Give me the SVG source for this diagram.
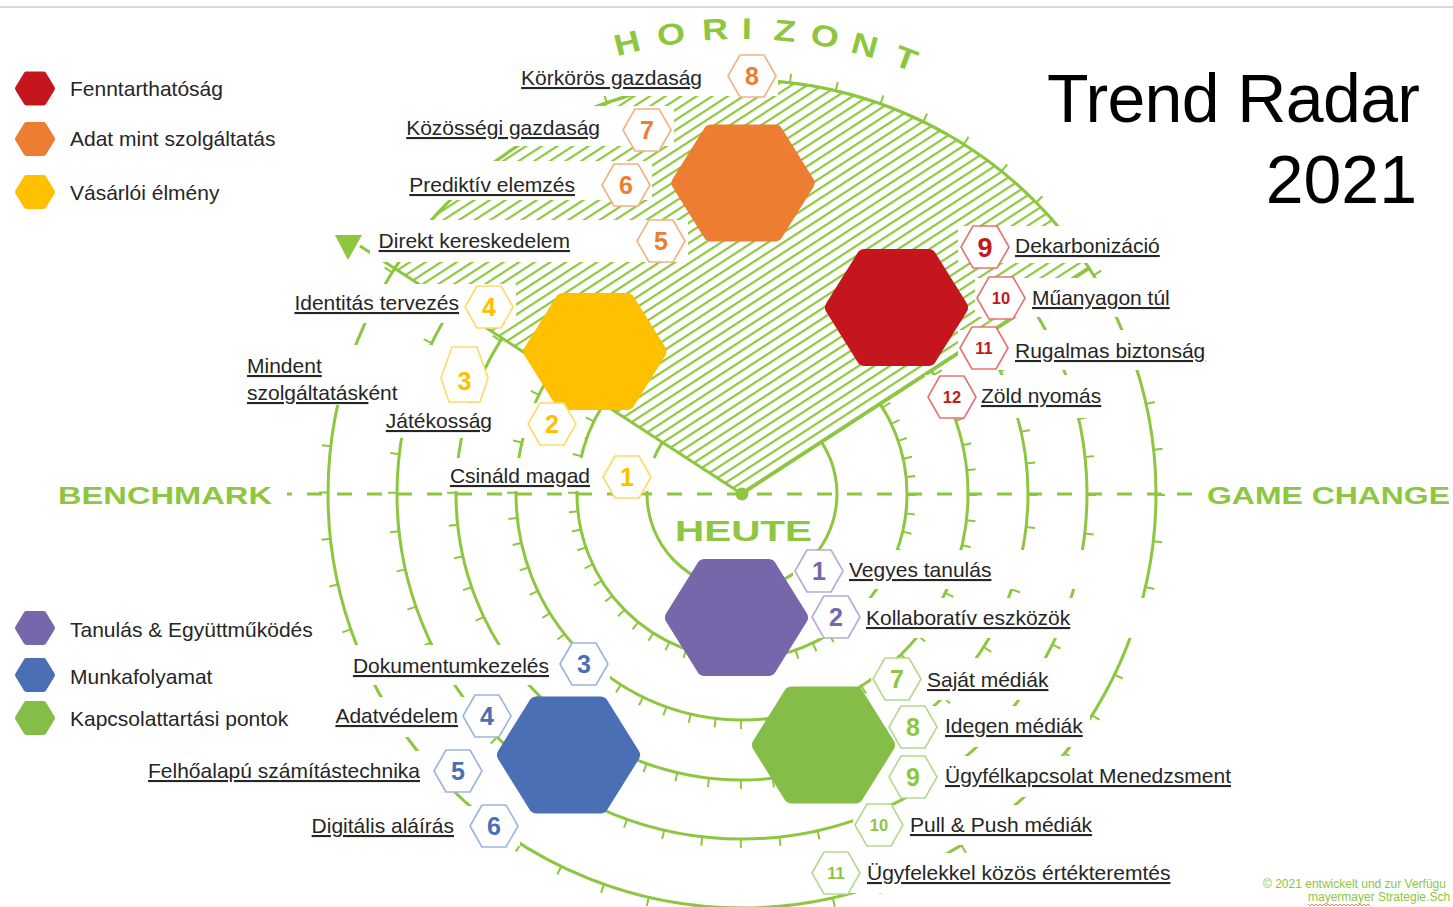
<svg xmlns="http://www.w3.org/2000/svg" xmlns:xlink="http://www.w3.org/1999/xlink" width="1453" height="907" viewBox="0 0 1453 907">
<style>
.lbl{font-family:"Liberation Sans",Arial,sans-serif;font-size:21px;fill:#262626;text-decoration:underline}
.end{text-anchor:end}
.num{font-family:"Liberation Sans",Arial,sans-serif;font-weight:bold;font-size:25px;text-anchor:middle}
.sm{font-size:16.5px}
.leg{font-family:"Liberation Sans",Arial,sans-serif;font-size:21px;fill:#262626}
.big{font-family:"Liberation Sans",Arial,sans-serif;font-weight:bold;fill:#8DC63F}
.title{font-family:"Liberation Sans",Arial,sans-serif;font-size:68px;fill:#000}
.copy{font-family:"Liberation Sans",Arial,sans-serif;font-size:12px;fill:#8DC63F}
.ring{fill:none;stroke:#8DC63F;stroke-width:3}
.tick{fill:none;stroke:#8DC63F;stroke-width:9}
.mask{fill:#fff}
</style>
<defs>
<pattern id="hatch" patternUnits="userSpaceOnUse" width="8.5" height="8.5" patternTransform="rotate(-33)">
<rect x="0" y="0" width="8.5" height="2.2" fill="#8DC63F"/>
</pattern>
<polygon id="bighex" points="-63.5,0 -32,-50.5 32,-50.5 63.5,0 32,50.5 -32,50.5" stroke-width="16" stroke-linejoin="round"/>
<polygon id="badge" points="-24,0 -12,-21 12,-21 24,0 12,21 -12,21" fill="#fff" stroke-width="1.6" stroke-linejoin="round"/>
<polygon id="leghex" points="-17,0 -8.5,-14 8.5,-14 17,0 8.5,14 -8.5,14" stroke-width="6" stroke-linejoin="round"/>
</defs>

<line x1="0" y1="7" x2="1453" y2="7" stroke="#D9D9D9" stroke-width="2"/>

<g id="rings">
<circle class="ring" cx="742" cy="494" r="95"/>
<circle class="ring" cx="742" cy="494" r="165"/>
<circle class="ring" cx="742" cy="494" r="226"/>
<circle class="ring" cx="742" cy="494" r="286"/>
<circle class="ring" cx="742" cy="494" r="345"/>
<circle class="ring" cx="742" cy="494" r="414"/>
<circle class="tick" cx="742" cy="494" r="169.5" stroke-dasharray="2 17.02"/>
<circle class="tick" cx="742" cy="494" r="230.5" stroke-dasharray="2 23.86"/>
<circle class="tick" cx="742" cy="494" r="290.5" stroke-dasharray="2 30.59"/>
<circle class="tick" cx="742" cy="494" r="349.5" stroke-dasharray="2 37.21"/>
<circle class="tick" cx="742" cy="494" r="418.5" stroke-dasharray="2 44.96"/>
</g>

<g id="horizont-sector">
<path d="M742,494 L394.8,268.5 A414,414 0 0 1 1089.2,268.5 Z" fill="#fff"/>
<path d="M742,494 L394.8,268.5 A414,414 0 0 1 1089.2,268.5 Z" fill="url(#hatch)" stroke="#8DC63F" stroke-width="3" stroke-linejoin="round"/>
<line x1="394.8" y1="268.5" x2="360" y2="246" stroke="#8DC63F" stroke-width="3"/>
<polygon points="335,235 362,235 348,260" fill="#8DC63F"/>
</g>

<g id="axis">
<line x1="287" y1="494" x2="1202" y2="494" stroke="#8DC63F" stroke-width="3" stroke-dasharray="15 15" stroke-dashoffset="10"/>
<circle cx="742" cy="494" r="6.5" fill="#8DC63F"/>
</g>

<g id="label-masks">
<rect class="mask" x="520" y="56" width="258" height="40"/>
<rect class="mask" x="410" y="106" width="264" height="40"/>
<rect class="mask" x="400" y="161" width="252" height="39"/>
<rect class="mask" x="370" y="220" width="318" height="42"/>
<rect class="mask" x="284" y="284" width="232" height="39"/>
<rect class="mask" x="240" y="345" width="192" height="60"/>
<rect class="mask" x="385" y="403" width="200" height="35"/>
<rect class="mask" x="445" y="458" width="210" height="33"/>
<rect class="mask" x="958" y="226" width="212" height="37"/>
<rect class="mask" x="975" y="278" width="207" height="39"/>
<rect class="mask" x="958" y="330" width="252" height="40"/>
<rect class="mask" x="925" y="375" width="183" height="43"/>
<rect class="mask" x="793" y="550" width="317" height="39"/>
<rect class="mask" x="810" y="598" width="340" height="40"/>
<rect class="mask" x="871" y="658" width="183" height="42"/>
<rect class="mask" x="888" y="706" width="202" height="41"/>
<rect class="mask" x="888" y="756" width="354" height="41"/>
<rect class="mask" x="853" y="805" width="245" height="40"/>
<rect class="mask" x="810" y="853" width="370" height="40"/>
<rect class="mask" x="345" y="645" width="265" height="40"/>
<rect class="mask" x="325" y="697" width="188" height="40"/>
<rect class="mask" x="143" y="751" width="342" height="41"/>
<rect class="mask" x="305" y="806" width="215" height="40"/>
</g>

<g id="hex-data"><use xlink:href="#bighex" x="743" y="183" fill="#ED7D31" stroke="#ED7D31"/></g>
<g id="hex-customer"><use xlink:href="#bighex" x="595" y="351.5" fill="#FFC000" stroke="#FFC000"/></g>
<g id="hex-sustain"><use xlink:href="#bighex" x="896.5" y="307.5" fill="#C5161D" stroke="#C5161D"/></g>
<g id="hex-learning"><use xlink:href="#bighex" x="736.5" y="617.5" fill="#7767AA" stroke="#7767AA"/></g>
<g id="hex-workflow"><use xlink:href="#bighex" x="568.5" y="755" fill="#4A6FB5" stroke="#4A6FB5"/></g>
<g id="hex-touch"><use xlink:href="#bighex" x="823.5" y="745" fill="#84BD48" stroke="#84BD48"/></g>

<g id="o8"><use xlink:href="#badge" x="752" y="76" stroke="#F4B183"/><text class="num" x="752" y="85" fill="#ED7D31">8</text><text class="lbl end" x="702" y="85">Körkörös gazdaság</text></g>
<g id="o7"><use xlink:href="#badge" x="647" y="130" stroke="#F4B183"/><text class="num" x="647" y="139" fill="#ED7D31">7</text><text class="lbl end" x="600" y="135">Közösségi gazdaság</text></g>
<g id="o6"><use xlink:href="#badge" x="626" y="185" stroke="#F4B183"/><text class="num" x="626" y="194" fill="#ED7D31">6</text><text class="lbl end" x="575" y="192">Prediktív elemzés</text></g>
<g id="o5"><use xlink:href="#badge" x="661" y="241" stroke="#F4B183"/><text class="num" x="661" y="250" fill="#ED7D31">5</text><text class="lbl end" x="570" y="248">Direkt kereskedelem</text></g>

<g id="y4"><use xlink:href="#badge" x="489" y="307" stroke="#FFD966"/><text class="num" x="489" y="316" fill="#FFC000">4</text><text class="lbl end" x="459" y="310">Identitás tervezés</text></g>
<g id="y3"><polygon points="452,347 477,347 488,378 480,402 449,402 441,378" fill="#fff" stroke="#FFD966" stroke-width="1.6" stroke-linejoin="round"/><text class="num" x="464.5" y="390" fill="#FFC000">3</text><text class="leg" x="247" y="373" style="text-decoration:underline">Mindent</text><text class="leg" x="247" y="400"><tspan style="text-decoration:underline">szolgáltatásk</tspan>ént</text></g>
<g id="y2"><use xlink:href="#badge" x="552" y="424" stroke="#FFD966"/><text class="num" x="552" y="433" fill="#FFC000">2</text><text class="lbl end" x="492" y="428">Játékosság</text></g>
<g id="y1"><use xlink:href="#badge" x="627" y="477" stroke="#FFD966"/><text class="num" x="627" y="486" fill="#FFC000">1</text><text class="lbl end" x="590" y="483">Csináld magad</text></g>

<g id="r9"><use xlink:href="#badge" x="985" y="247" stroke="#E57373"/><text class="num" x="985" y="257" fill="#C5161D" style="font-size:27px">9</text><text class="lbl" x="1015" y="253">Dekarbonizáció</text></g>
<g id="r10"><use xlink:href="#badge" x="1001" y="298" stroke="#E57373"/><text class="num sm" x="1001" y="304" fill="#C5161D">10</text><text class="lbl" x="1032" y="305">Műanyagon túl</text></g>
<g id="r11"><use xlink:href="#badge" x="984" y="348" stroke="#E57373"/><text class="num sm" x="984" y="354" fill="#C5161D">11</text><text class="lbl" x="1015" y="358">Rugalmas biztonság</text></g>
<g id="r12"><use xlink:href="#badge" x="952" y="397" stroke="#E57373"/><text class="num sm" x="952" y="403" fill="#C5161D">12</text><text class="lbl" x="981" y="403">Zöld nyomás</text></g>

<g id="p1"><use xlink:href="#badge" x="819" y="571" stroke="#B4ABD6"/><text class="num" x="819" y="580" fill="#7767AA">1</text><text class="lbl" x="849" y="577">Vegyes tanulás</text></g>
<g id="p2"><use xlink:href="#badge" x="836" y="617" stroke="#B4ABD6"/><text class="num" x="836" y="626" fill="#7767AA">2</text><text class="lbl" x="866" y="625">Kollaboratív eszközök</text></g>

<g id="b3"><use xlink:href="#badge" x="584" y="664" stroke="#9DB3DD"/><text class="num" x="584" y="673" fill="#4A6FB5">3</text><text class="lbl end" x="549" y="673">Dokumentumkezelés</text></g>
<g id="b4"><use xlink:href="#badge" x="487" y="716" stroke="#9DB3DD"/><text class="num" x="487" y="725" fill="#4A6FB5">4</text><text class="lbl end" x="458" y="723">Adatvédelem</text></g>
<g id="b5"><use xlink:href="#badge" x="458" y="771" stroke="#9DB3DD"/><text class="num" x="458" y="780" fill="#4A6FB5">5</text><text class="lbl end" x="420" y="778">Felhőalapú számítástechnika</text></g>
<g id="b6"><use xlink:href="#badge" x="494" y="826" stroke="#9DB3DD"/><text class="num" x="494" y="835" fill="#4A6FB5">6</text><text class="lbl end" x="454" y="833">Digitális aláírás</text></g>

<g id="g7"><use xlink:href="#badge" x="897" y="679" stroke="#B5D98E"/><text class="num" x="897" y="688" fill="#8DC63F">7</text><text class="lbl" x="927" y="687">Saját médiák</text></g>
<g id="g8"><use xlink:href="#badge" x="913" y="727" stroke="#B5D98E"/><text class="num" x="913" y="736" fill="#8DC63F">8</text><text class="lbl" x="945" y="733">Idegen médiák</text></g>
<g id="g9"><use xlink:href="#badge" x="913" y="777" stroke="#B5D98E"/><text class="num" x="913" y="786" fill="#8DC63F">9</text><text class="lbl" x="945" y="783">Ügyfélkapcsolat Menedzsment</text></g>
<g id="g10"><use xlink:href="#badge" x="879" y="825" stroke="#B5D98E"/><text class="num sm" x="879" y="831" fill="#8DC63F">10</text><text class="lbl" x="910" y="832">Pull &amp; Push médiák</text></g>
<g id="g11"><use xlink:href="#badge" x="836" y="873" stroke="#B5D98E"/><text class="num sm" x="836" y="879" fill="#8DC63F">11</text><text class="lbl" x="867" y="880">Ügyfelekkel közös értékteremtés</text></g>

<g id="legend-top">
<use xlink:href="#leghex" x="35" y="88.5" fill="#C5161D" stroke="#C5161D"/><text class="leg" x="70" y="96">Fenntarthatóság</text>
<use xlink:href="#leghex" x="35" y="139" fill="#ED7D31" stroke="#ED7D31"/><text class="leg" x="70" y="146">Adat mint szolgáltatás</text>
<use xlink:href="#leghex" x="35" y="192" fill="#FFC000" stroke="#FFC000"/><text class="leg" x="70" y="200">Vásárlói élmény</text>
</g>
<g id="legend-bottom">
<use xlink:href="#leghex" x="35" y="628" fill="#7767AA" stroke="#7767AA"/><text class="leg" x="70" y="637">Tanulás &amp; Együttműködés</text>
<use xlink:href="#leghex" x="35" y="675" fill="#4A6FB5" stroke="#4A6FB5"/><text class="leg" x="70" y="684">Munkafolyamat</text>
<use xlink:href="#leghex" x="35" y="718" fill="#84BD48" stroke="#84BD48"/><text class="leg" x="70" y="726">Kapcsolattartási pontok</text>
</g>

<g id="headings">
<text class="big" x="58" y="504" font-size="24.5" textLength="214" lengthAdjust="spacingAndGlyphs">BENCHMARK</text>
<text class="big" x="1207" y="504" font-size="24.5" textLength="243" lengthAdjust="spacingAndGlyphs">GAME CHANGE</text>
<text class="big" x="675" y="541" font-size="30" textLength="137" lengthAdjust="spacingAndGlyphs">HEUTE</text>
<g class="big" font-size="30" text-anchor="middle">
<text transform="translate(629.7,53.1) rotate(-14.3) scale(1.2,1)">H</text>
<text transform="translate(672.6,44.3) rotate(-8.8) scale(1.2,1)">O</text>
<text transform="translate(715.7,39.8) rotate(-3.3) scale(1.2,1)">R</text>
<text transform="translate(746.8,39) rotate(0.6) scale(1.2,1)">I</text>
<text transform="translate(784,40.9) rotate(5.3) scale(1.2,1)">Z</text>
<text transform="translate(823,46.3) rotate(10.3) scale(1.2,1)">O</text>
<text transform="translate(862.1,55.1) rotate(15.3) scale(1.2,1)">N</text>
<text transform="translate(902.2,68.1) rotate(20.6) scale(1.2,1)">T</text>
</g>
<text class="title" x="1047" y="122" textLength="373" lengthAdjust="spacing">Trend Radar</text>
<text class="title" x="1417" y="203" text-anchor="end">2021</text>
</g>

<g id="copyright">
<text class="copy" x="1263" y="888">© 2021 entwickelt und zur Verfügu</text>
<text class="copy" x="1308" y="901">mayermayer Strategie.Sch</text>
<polyline points="1308,904 1310,906 1312,904 1314,906 1316,904 1318,906 1320,904 1322,906 1324,904 1326,906 1328,904 1330,906 1332,904 1334,906 1336,904 1338,906 1340,904 1342,906 1344,904 1346,906 1348,904 1350,906 1352,904 1354,906 1356,904 1358,906 1360,904 1362,906 1364,904 1366,906 1368,904 1370,906" fill="none" stroke="#E06060" stroke-width="0.8"/>
</g>
</svg>
